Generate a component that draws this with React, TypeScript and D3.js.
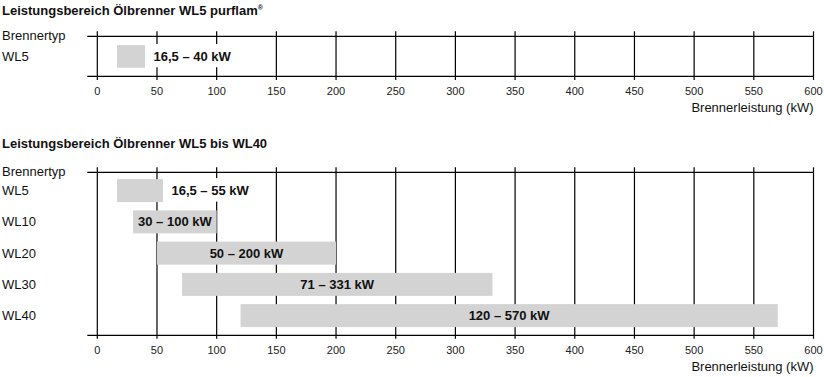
import React, { useLayoutEffect, useRef, useState } from "react";
import * as d3 from "d3";

const ticks = [0, 50, 100, 150, 200, 250, 300, 350, 400, 450, 500, 550, 600];

const topTitle = "Leistungsbereich Ölbrenner WL5 purflam";
const topTypes = ["WL5"];
const topMin = [16.5];
const topMax = [40];
const topLabels = ["16,5 – 40 kW"];
const topLabelOutside = [true];

const botTitle = "Leistungsbereich Ölbrenner WL5 bis WL40";
const botTypes = ["WL5", "WL10", "WL20", "WL30", "WL40"];
const botMin = [16.5, 30, 50, 71, 120];
const botMax = [55, 100, 200, 331, 570];
const botLabels = ["16,5 – 55 kW", "30 – 100 kW", "50 – 200 kW", "71 – 331 kW", "120 – 570 kW"];
const botLabelOutside = [true, false, false, false, false];

const axisTitle = "Brennerleistung (kW)";
const typeHeader = "Brennertyp";

const FONT = "'Liberation Sans', Arial, Helvetica, sans-serif";
const BAR = "#d3d3d3";

const x = d3.scaleLinear().domain([0, 600]).range([97.3, 813.5]);

type PanelProps = {
  title: string;
  sup?: string;
  titleY: number;
  top: number;
  bottom: number;
  bandRange: [number, number];
  pi: number;
  po: number;
  types: string[];
  mins: number[];
  maxs: number[];
  labels: string[];
  outside: boolean[];
};

function Panel(p: PanelProps) {
  const y = d3
    .scaleBand<string>()
    .domain(p.types)
    .range(p.bandRange)
    .paddingInner(p.pi)
    .paddingOuter(p.po);
  const bw = y.bandwidth();
  const refs = useRef<(SVGTextElement | null)[]>([]);
  const [widths, setWidths] = useState<number[]>(p.types.map(() => 0));
  useLayoutEffect(() => {
    setWidths(refs.current.map((el) => (el ? el.getComputedTextLength() : 0)));
  }, []);
  return (
    <g>
      <text x={2} y={p.titleY} fontSize={13} fontWeight="bold" fill="#111" fontFamily={FONT}>
        {p.title}
        {p.sup ? (
          <tspan fontSize={7} dy={-5}>
            {p.sup}
          </tspan>
        ) : null}
      </text>
      <text x={2} y={p.top + 4} fontSize={13} fill="#111" fontFamily={FONT}>
        {typeHeader}
      </text>
      {p.types.map((t) => {
        const y0 = y(t) as number;
        return (
          <text key={"n" + t} x={2} y={y0 + bw / 2 + 4.6} fontSize={13} fill="#111" fontFamily={FONT}>
            {t}
          </text>
        );
      })}
      {ticks.map((t) => (
        <line
          key={"g" + t}
          x1={x(t)}
          x2={x(t)}
          y1={p.top - 5}
          y2={p.bottom + 3.5}
          stroke="#000"
          strokeWidth={1.2}
        />
      ))}
      <line x1={87.3} x2={x(600)} y1={p.top} y2={p.top} stroke="#000" strokeWidth={1.2} />
      <line x1={87.3} x2={x(600)} y1={p.bottom} y2={p.bottom} stroke="#000" strokeWidth={1.2} />
      {p.types.map((t, i) => {
        const y0 = y(t) as number;
        const x0 = x(p.mins[i]);
        const x1 = x(p.maxs[i]);
        return <rect key={"b" + t} x={x0} y={y0} width={x1 - x0} height={bw} fill={BAR} />;
      })}
      {p.types.map((t, i) => {
        const y0 = y(t) as number;
        const x1 = x(p.maxs[i]);
        if (!p.outside[i]) return null;
        return (
          <rect
            key={"w" + t}
            x={x1 + 6}
            y={y0 - 1}
            width={widths[i] + 5}
            height={bw + 0.5}
            fill="#fff"
          />
        );
      })}
      {p.types.map((t, i) => {
        const y0 = y(t) as number;
        const x0 = x(p.mins[i]);
        const x1 = x(p.maxs[i]);
        const out = p.outside[i];
        return (
          <text
            key={"l" + t}
            ref={(el) => {
              refs.current[i] = el;
            }}
            x={out ? x1 + 8.5 : (x0 + x1) / 2}
            y={y0 + bw / 2 + 4.6}
            textAnchor={out ? "start" : "middle"}
            fontSize={13}
            fontWeight="bold"
            fill="#111"
            fontFamily={FONT}
          >
            {p.labels[i]}
          </text>
        );
      })}
      {ticks.map((t) => (
        <text
          key={"t" + t}
          x={x(t)}
          y={p.bottom + 18.6}
          textAnchor="middle"
          fontSize={11}
          fill="#222"
          fontFamily={FONT}
        >
          {t}
        </text>
      ))}
      <text
        x={x(600)}
        y={p.bottom + 36}
        textAnchor="end"
        fontSize={13}
        fill="#111"
        fontFamily={FONT}
      >
        {axisTitle}
      </text>
    </g>
  );
}

export default function App() {
  return (
    <svg
      width={824}
      height={377}
      style={{ position: "absolute", left: 0, top: 0, background: "#fff" }}
    >
      <rect width={824} height={377} fill="#fff" />
      <Panel
        title={topTitle}
        sup="®"
        titleY={14.5}
        top={36.3}
        bottom={76.4}
        bandRange={[36.3, 76.5]}
        pi={0.3}
        po={0.27}
        types={topTypes}
        mins={topMin}
        maxs={topMax}
        labels={topLabels}
        outside={topLabelOutside}
      />
      <Panel
        title={botTitle}
        titleY={148}
        top={172.3}
        bottom={335.3}
        bandRange={[175, 331.25]}
        pi={0.264}
        po={0.132}
        types={botTypes}
        mins={botMin}
        maxs={botMax}
        labels={botLabels}
        outside={botLabelOutside}
      />
    </svg>
  );
}
